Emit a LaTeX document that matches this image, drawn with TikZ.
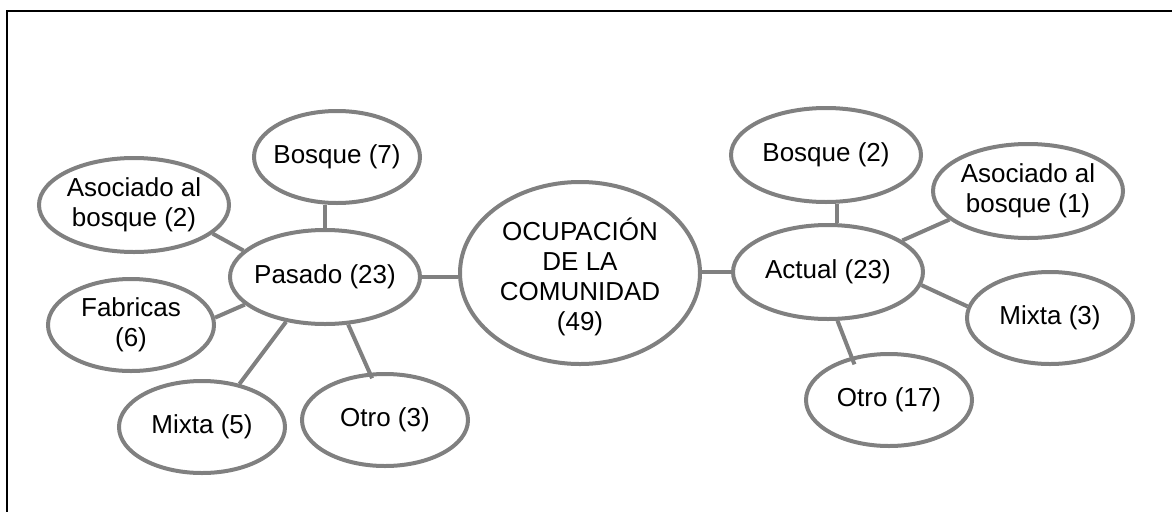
\documentclass[tikz,border=0pt]{standalone}
\usepackage{fontspec}
\setmainfont{Liberation Sans}
\usetikzlibrary{shapes.geometric,calc}
\definecolor{edgegray}{RGB}{128,128,128}
\begin{document}
\begin{tikzpicture}[x=1pt,y=-1pt,
  txt/.style={align=center,font=\fontsize{26}{30}\selectfont},
  bub/.style={txt,ellipse,draw=edgegray,line width=4pt,inner xsep=-18pt,inner ysep=-12pt},
  small/.style={bub,minimum width=166pt,minimum height=92pt},
  big/.style={bub,minimum width=190pt,minimum height=94pt},
  link/.style={draw=edgegray,line width=4pt}]
\useasboundingbox (0,0) rectangle (1172,512);
\draw[line width=1.5pt] (1172,11) -- (7,11) -- (7,512);
% central
\node[bub,minimum width=240pt,minimum height=182pt] (ocup) at (580,273) {};
\node[txt,inner sep=0pt] (ocuptxt) at (580,277) {OCUPACIÓN\\DE LA\\COMUNIDAD\\(49)};
% left
\node[big] (pasado) at (325,277) {Pasado (23)};
\node[small] (bosque7) at (337,157) {Bosque (7)};
\node[big] (asoc2) at (134,205) {Asociado al\\bosque (2)};
\node[small] (fabricas) at (131,325) {Fabricas\\(6)};
\node[small] (mixta5) at (202,427) {Mixta (5)};
\node[small] (otro3) at (385,420) {Otro (3)};
% right
\node[big] (actual) at (828,272) {Actual (23)};
\node[big] (bosque2) at (826,155) {Bosque (2)};
\node[big] (asoc1) at (1028,191) {Asociado al\\bosque (1)};
\node[small] (mixta3) at (1050,318) {Mixta (3)};
\node[small] (otro17) at (889,400) {Otro (17)};
% links
\draw[link] (pasado.east) -- (ocup.west |- pasado.east);
\draw[link] (pasado.north) -- (pasado.north |- bosque7.south);
\draw[link] (pasado.162) -- (asoc2.-20);
\draw[link] (pasado.-161) -- (fabricas.5);
\draw[link] (pasado.-131) -- (mixta5.49);
\draw[link] (pasado.-64) -- ($(otro3.108)!-6pt!(pasado.-64)$);
\draw[link] (ocup.east |- actual.west) -- (actual.west);
\draw[link] ([xshift=9pt]actual.north) -- ([xshift=9pt]actual.north |- bosque2.south);
\draw[link] (actual.23) -- (asoc1.200);
\draw[link] (actual.-8) -- (mixta3.172);
\draw[link] (actual.-79) -- ($(otro17.131)!-8pt!(actual.-79)$);
\end{tikzpicture}
\end{document}
